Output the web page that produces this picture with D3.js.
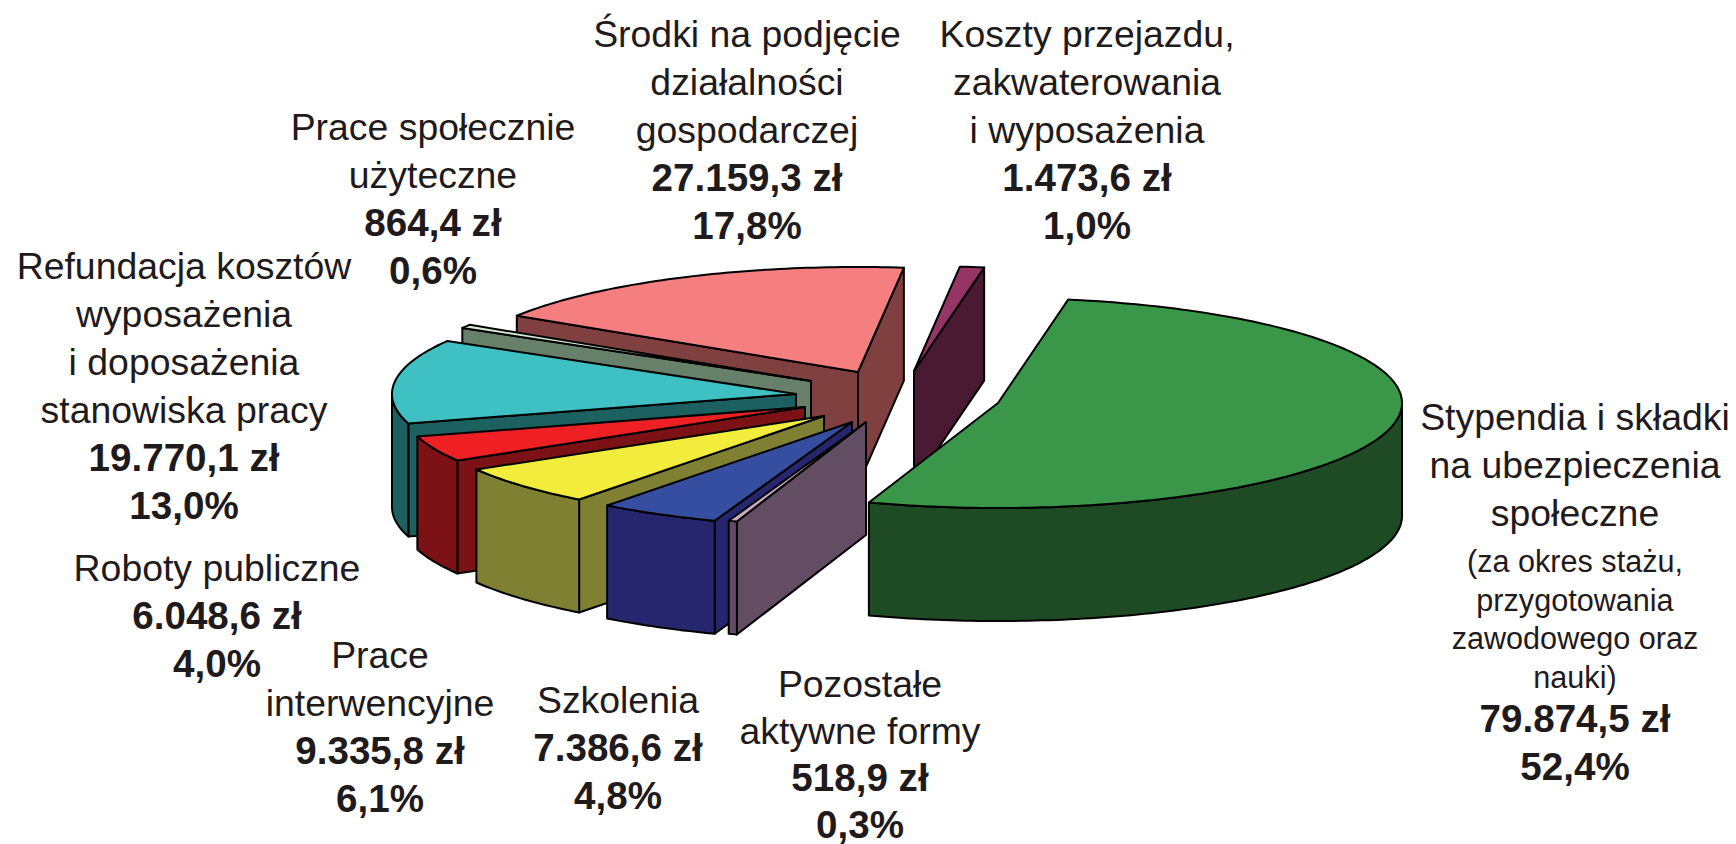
<!DOCTYPE html>
<html lang="pl"><head><meta charset="utf-8">
<style>html,body{margin:0;padding:0;background:#fff;overflow:hidden}svg{display:block}text{font-family:"Liberation Sans",Arial,sans-serif;fill:#1f1a1c}</style>
<script src="https://cdn.jsdelivr.net/npm/d3@7/dist/d3.min.js"></script>
</head><body><svg id="c" width="1736" height="844"></svg>
<script>
// --- data ---
const categories = [
  ["Stypendia i składki","na ubezpieczenia","społeczne"],
  ["Pozostałe","aktywne formy"],
  ["Szkolenia"],
  ["Prace","interwencyjne"],
  ["Roboty publiczne"],
  ["Refundacja kosztów","wyposażenia","i doposażenia","stanowiska pracy"],
  ["Prace społecznie","użyteczne"],
  ["Środki na podjęcie","działalności","gospodarczej"],
  ["Koszty przejazdu,","zakwaterowania","i wyposażenia"]
];
const notes = [["(za okres stażu,","przygotowania","zawodowego oraz","nauki)"],[],[],[],[],[],[],[],[]];
const values = [79874.5, 518.9, 7386.6, 9335.8, 6048.6, 19770.1, 864.4, 27159.3, 1473.6];

// --- style and layout ---
const topColors  = ["#3a9648","#c9a9c4","#354ea0","#f2ec3c","#ee2024","#3fc1c4","#d3ecd0","#f57f7f","#953565"];
const wallColors = ["#1e4a24","#634d63","#26266e","#808033","#7c1216","#1c6060","#66806a","#804040","#4a1a33"];
const explodeOffsets = [[93,10],[-39,29],[-53,29],[-81,23],[-100,14],[-109,1],[-94,-12],[-47,-21],[9,-22]];
const labelCenters = [1575,860,618,380,217,184,433,747,1087];
const labelTops    = [430,697,713,668,581,279,140,47,47];
const labelStep    = [48,47,48,48,48,48,48,48,48];
const centre = [905,393], rx = 404, ry = 105, depth = 113;
const FONT = 37.4, BOLD = 38.6, SMALL = 30.6;

const loc = d3.formatLocale({decimal:",",thousands:".",grouping:[3],currency:["","zł"],percent:"%"});
const fmtV = loc.format(",.1f"), fmtP = loc.format(".1%");
const total = d3.sum(values);

const sx = d3.scaleLinear().domain([-1,1]).range([-rx,rx]);
const sy = d3.scaleLinear().domain([-1,1]).range([ry,-ry]);
const rad = Math.PI/180;
const line = d3.line();
const pie = d3.pie().sort(null).startAngle(10*rad).endAngle(370*rad).value(d=>d);
const arcs = pie(values);
const svg = d3.select("#c");

function pt(o,a,dz=0){return [centre[0]+o[0]+sx(Math.sin(a)), centre[1]+o[1]+sy(Math.cos(a))+dz];}
function apex(o,dz=0){return [centre[0]+o[0], centre[1]+o[1]+dz];}
function samples(a0,a1){const n=Math.max(2,Math.ceil((a1-a0)/rad));return d3.range(n+1).map(i=>a0+(a1-a0)*i/n);}

const order = d3.range(values.length).reverse();
const g = svg.append("g").attr("stroke","#000").attr("stroke-width",2).attr("stroke-linejoin","round");
order.forEach(i=>{
  const {startAngle:a0,endAngle:a1}=arcs[i], o=explodeOffsets[i];
  const face=(pts,fill)=>g.append("path").attr("d",line(pts)+"Z").attr("fill",fill);
  if(Math.sin(a1)>0) face([apex(o),pt(o,a1),pt(o,a1,depth),apex(o,depth)],wallColors[i]);
  if(Math.sin(a0)<0) face([apex(o),pt(o,a0),pt(o,a0,depth),apex(o,depth)],wallColors[i]);
  const l=Math.max(a0,90*rad), h=Math.min(a1,270*rad);
  if(h>l){
    const s=samples(l,h);
    face(s.map(a=>pt(o,a)).concat(s.slice().reverse().map(a=>pt(o,a,depth))),wallColors[i]);
  }
  face([apex(o)].concat(samples(a0,a1).map(a=>pt(o,a))),topColors[i]);
});

const tg = svg.append("g").attr("text-anchor","middle");
categories.forEach((cat,i)=>{
  let y=labelTops[i]; const x=labelCenters[i], step=labelStep[i];
  const put=(t,size,weight,dy)=>{tg.append("text").attr("x",x).attr("y",y).attr("font-size",size).attr("font-weight",weight).text(t);y+=dy;};
  cat.forEach(t=>put(t,FONT,"normal",step));
  if(notes[i].length){y-=2;notes[i].forEach(t=>put(t,SMALL,"normal",38.7));y+=5;}
  put(fmtV(values[i])+" zł",BOLD,"bold",step);
  put(fmtP(values[i]/total),BOLD,"bold",step);
});
</script></body></html>
